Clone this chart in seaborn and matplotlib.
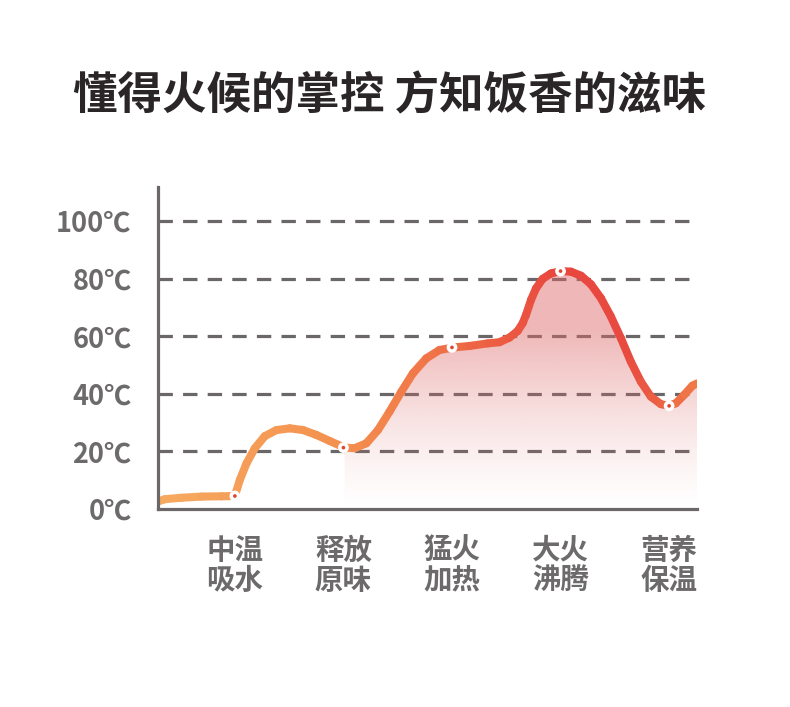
import numpy as np
import pandas as pd
import matplotlib
matplotlib.use("Agg")
import matplotlib.pyplot as plt
import seaborn as sns
from matplotlib.collections import LineCollection
from matplotlib.colors import LinearSegmentedColormap, to_rgb

title = "懂得火候的掌控 方知饭香的滋味"
stage_labels = ["中温\n吸水", "释放\n原味", "猛火\n加热", "大火\n沸腾", "营养\n保温"]
stage_x = [1, 2, 3, 4, 5]
stage_temp = [4.5, 21.3, 56.1, 82.6, 35.8]
y_ticks = [0, 20, 40, 60, 80, 100]
y_tick_labels = ["0℃", "20℃", "40℃", "60℃", "80℃", "100℃"]

# curve
curve_x = [0.292, 0.356, 0.510, 0.694, 0.878, 1.000, 1.046, 1.108, 1.184, 1.276,
           1.383, 1.506, 1.628, 1.751, 1.874, 2.011, 2.103, 2.211, 2.318, 2.425,
           2.533, 2.640, 2.763, 2.885, 3.017, 3.161, 3.329, 3.437, 3.529, 3.605,
           3.651, 3.682, 3.728, 3.774, 3.835, 3.912, 4.004, 4.096, 4.188, 4.280,
           4.372, 4.464, 4.556, 4.648, 4.740, 4.832, 4.924, 4.994, 5.062, 5.138,
           5.214, 5.257]
curve_y = [2.6, 3.4, 3.9, 4.3, 4.4, 4.5, 10.1, 15.9, 21.1, 25.3,
           27.4, 28.0, 27.4, 25.7, 23.6, 21.3, 21.1, 22.8, 27.4, 33.8,
           40.7, 47.1, 52.3, 55.2, 56.1, 56.6, 57.5, 57.9, 59.5, 61.8,
           64.5, 67.4, 72.6, 76.6, 79.9, 81.8, 82.6, 82.4, 81.0, 78.0,
           73.2, 66.8, 59.3, 51.1, 44.2, 39.0, 36.4, 35.8, 36.7, 39.6,
           42.8, 43.6]

grey = "#6b6667"
label_grey = "#6d6a6b"

sns.set_theme(style="white")
plt.rcParams["font.family"] = ["Noto Sans CJK SC", "DejaVu Sans"]

fig = plt.figure(figsize=(7.9, 7.07), dpi=100)
ax = fig.add_axes([0.2, 0.2801, 0.6823, 0.4554])
ax.set_xlim(0.292, 5.257)
ax.set_ylim(0, 111.8)

# dashed grid lines
for t in y_ticks[1:]:
    ax.axhline(t, color=grey, lw=2.3, ls=(0, (4.5, 3.2)), zorder=1)

# gradient fill under the curve (right part)
df = pd.DataFrame({"x": curve_x, "y": curve_y})
fill_df = df[df["x"] >= 2.0]
poly = ax.fill_between(fill_df["x"], fill_df["y"], 0, color="none", lw=0)
ny = 200
yy = np.linspace(0, 85, ny)
alpha = np.clip(yy / 62.0, 0, 1) ** 1.3 * 0.48
rgba = np.zeros((ny, 2, 4))
rgba[..., :3] = to_rgb("#de6a6a")
rgba[..., 3] = alpha[:, None]
im = ax.imshow(rgba, extent=(2.0, 5.257, 0, 85), origin="lower", aspect="auto",
               zorder=2, interpolation="bilinear")
im.set_clip_path(poly.get_paths()[0], transform=ax.transData)

# gradient line
cmap = LinearSegmentedColormap.from_list(
    "heat",
    [(0.0, "#f6aa60"), (0.35, "#f4904f"), (0.55, "#ef6d46"),
     (0.75, "#e8463e"), (0.87, "#e84a40"), (1.0, "#f07a48")])
pts = np.column_stack([curve_x, curve_y]).reshape(-1, 1, 2)
segs = np.concatenate([pts[:-1], pts[1:]], axis=1)
mids = (np.array(curve_x[:-1]) + np.array(curve_x[1:])) / 2
lc = LineCollection(segs, cmap=cmap, norm=plt.Normalize(0.292, 5.257),
                    linewidths=5.8, capstyle="round", joinstyle="round", zorder=3)
lc.set_array(mids)
ax.add_collection(lc)

# stage markers
pts_df = pd.DataFrame({"x": stage_x, "y": stage_temp})
sns.scatterplot(data=pts_df, x="x", y="y", s=60, color="white", edgecolor="none",
                ax=ax, zorder=4)
sns.scatterplot(data=pts_df, x="x", y="y", s=7, color="#e0452f", edgecolor="none",
                ax=ax, zorder=5)

ax.set_xlabel("")
ax.set_ylabel("")
ax.set_xticks(stage_x)
ax.set_xticklabels(stage_labels, fontsize=20.5, color=label_grey,
                   fontweight="bold", linespacing=1.08)
ax.set_yticks(y_ticks)
ax.set_yticklabels(y_tick_labels, fontsize=19.5, color=label_grey, fontweight="bold")
ax.tick_params(axis="x", length=0, pad=20)
ax.tick_params(axis="y", length=0, pad=19)

for side in ["top", "right"]:
    ax.spines[side].set_visible(False)
for side in ["left", "bottom"]:
    ax.spines[side].set_color(grey)
    ax.spines[side].set_linewidth(2.3)
    ax.spines[side].set_zorder(6)

fig.text(0.4937, 0.864, title, ha="center", va="center", fontsize=32,
         fontweight=900, color="#2a2526")

fig.savefig("out.png", dpi=100, facecolor="white")
